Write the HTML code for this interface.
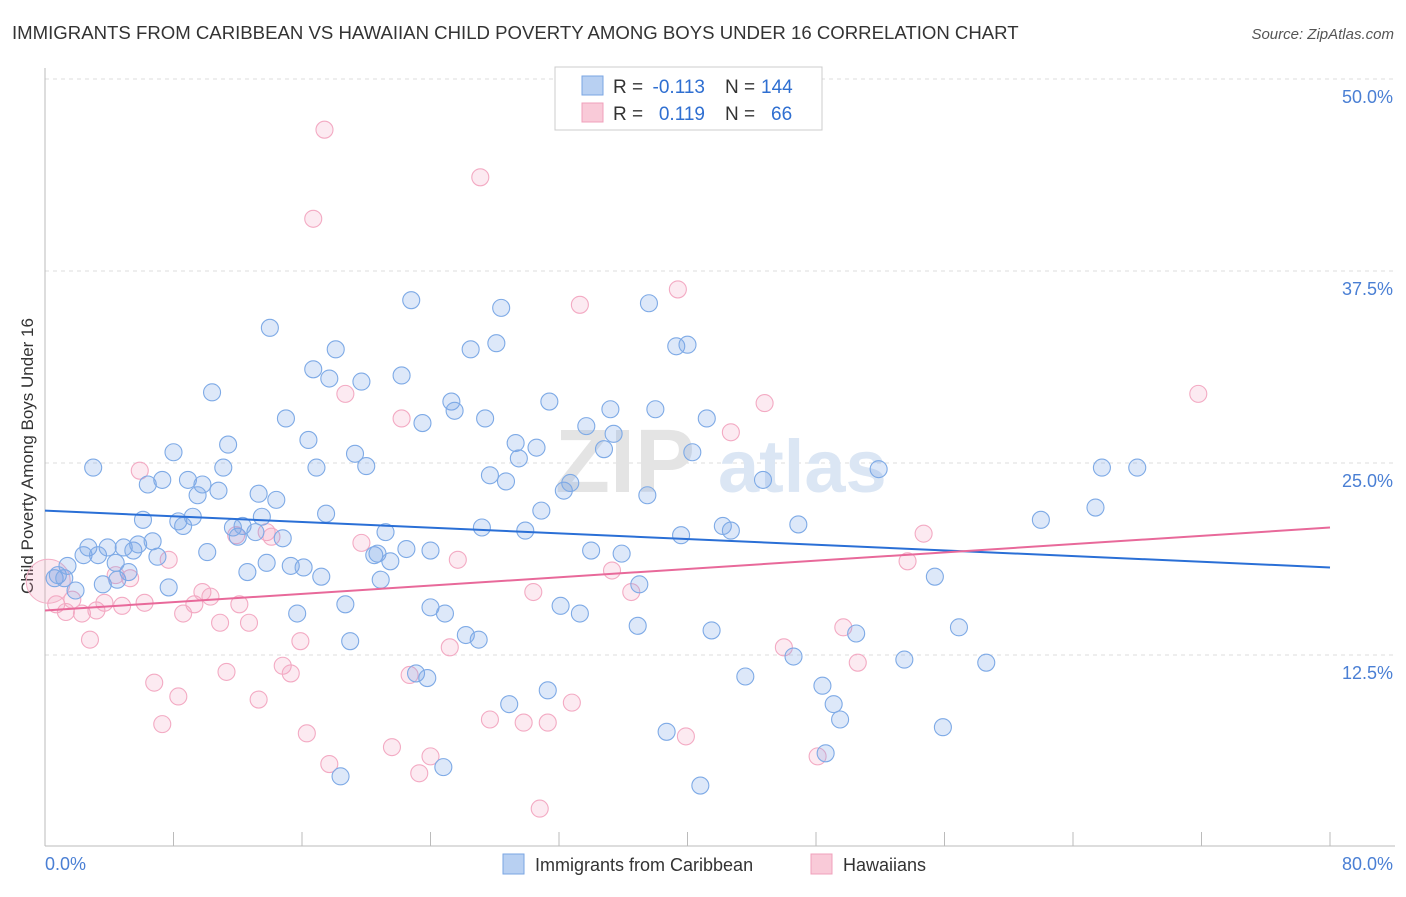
<!DOCTYPE html>
<html><head><meta charset="utf-8">
<style>
body{margin:0;background:#fff;font-family:"Liberation Sans",sans-serif;}
svg text{font-family:"Liberation Sans",sans-serif;}
</style></head><body>
<svg width="1406" height="892" viewBox="0 0 1406 892">
<text x="12" y="39" font-size="18.6" fill="#333">IMMIGRANTS FROM CARIBBEAN VS HAWAIIAN CHILD POVERTY AMONG BOYS UNDER 16 CORRELATION CHART</text>
<text x="1394" y="39" font-size="15" fill="#555" text-anchor="end" font-style="italic">Source: ZipAtlas.com</text>
<g id="grid"></g>
<text x="555" y="492" font-size="90" fill="#e4e4e4" font-family="Liberation Serif" font-weight="bold">ZIP</text>
<text x="718" y="492" font-size="74" fill="#dbe6f4" font-weight="bold">atlas</text>
<line x1="45" y1="68" x2="45" y2="846" stroke="#bbb"/>
<line x1="45" y1="846" x2="1395" y2="846" stroke="#bbb"/>
<text transform="translate(33,456) rotate(-90)" font-size="17" fill="#333" text-anchor="middle">Child Poverty Among Boys Under 16</text>
<text x="45" y="870" font-size="18" fill="#4a7fd4">0.0%</text>
<text x="1393" y="870" font-size="18" fill="#4a7fd4" text-anchor="end">80.0%</text>
<g id="pts"></g>
<g id="trends"></g>
<g>
<rect x="555" y="67" width="267" height="63" fill="#fff" stroke="#ccc"/>
<rect x="582" y="76" width="21" height="19" fill="#b8d0f2" stroke="#7aa6e3"/>
<rect x="582" y="103" width="21" height="19" fill="#f9cad8" stroke="#f0a0bb"/>
<text x="613" y="93" font-size="19" fill="#333">R =</text>
<text x="705" y="93" font-size="19" fill="#2f6fd1" text-anchor="end">-0.113</text>
<text x="725" y="93" font-size="19" fill="#333">N =</text>
<text x="761" y="93" font-size="19" fill="#2f6fd1">144</text>
<text x="613" y="120" font-size="19" fill="#333">R =</text>
<text x="705" y="120" font-size="19" fill="#2f6fd1" text-anchor="end">0.119</text>
<text x="725" y="120" font-size="19" fill="#333">N =</text>
<text x="771" y="120" font-size="19" fill="#2f6fd1">66</text>
</g>
<g>
<rect x="503" y="854" width="21" height="20" fill="#b8d0f2" stroke="#7aa6e3"/>
<text x="535" y="871" font-size="18" fill="#333">Immigrants from Caribbean</text>
<rect x="811" y="854" width="21" height="20" fill="#f9cad8" stroke="#f0a0bb"/>
<text x="843" y="871" font-size="18" fill="#333">Hawaiians</text>
</g>
</svg>
<script>
const yTicks=[12.5,25.0,37.5,50.0];
const xTicks=[8,16,24,32,40,48,56,64,72,80];
const blueX=[3.0,0.6,0.8,1.2,1.4,1.9,2.4,2.7,3.3,3.6,3.9,4.4,4.5,4.9,5.2,5.5,5.8,6.1,6.4,6.7,7.0,7.3,7.7,8.0,8.3,8.6,8.9,9.2,9.5,9.8,10.1,10.4,10.8,11.1,11.4,11.7,12.0,12.3,12.6,13.1,13.3,13.5,13.8,14.0,14.4,14.8,15.0,15.3,15.7,16.1,16.4,16.7,16.9,17.2,17.5,17.7,18.1,18.4,18.7,19.0,19.3,19.7,20.0,20.5,20.7,20.9,21.2,21.5,22.2,22.5,22.8,23.1,23.5,23.8,24.0,24.0,24.8,24.9,25.3,25.5,26.2,27.0,27.2,27.4,27.7,26.5,28.1,28.4,28.7,28.9,29.3,29.5,29.9,30.6,30.9,31.3,31.4,32.1,32.3,32.7,33.3,33.7,34.0,34.8,35.2,35.4,35.9,36.9,37.0,37.5,37.6,38.0,38.7,39.3,40.0,39.6,40.3,40.8,41.2,41.5,42.2,42.7,43.6,44.7,46.6,46.9,48.4,48.6,49.1,49.5,50.5,51.9,53.5,55.4,55.9,56.9,58.6,62.0,65.4,65.8,68.0];
const blueY=[24.7,17.5,17.7,17.5,18.3,16.7,19.0,19.5,19.0,17.1,19.5,18.5,17.4,19.5,17.9,19.3,19.7,21.3,23.6,19.9,18.9,23.9,16.9,25.7,21.2,20.9,23.9,21.5,22.9,23.6,19.2,29.6,23.2,24.7,26.2,20.8,20.2,20.9,17.9,20.5,23.0,21.5,18.5,33.8,22.6,20.1,27.9,18.3,15.2,18.2,26.5,31.1,24.7,17.6,21.7,30.5,32.4,4.6,15.8,13.4,25.6,30.3,24.8,19.0,19.1,17.4,20.5,18.6,30.7,19.4,35.6,11.3,27.6,11.0,19.3,15.6,5.2,15.2,29.0,28.4,13.8,13.5,20.8,27.9,24.2,32.4,32.8,35.1,23.8,9.3,26.3,25.3,20.6,26.0,21.9,10.2,29.0,15.7,23.2,23.7,15.2,27.4,19.3,25.9,28.5,26.9,19.1,14.4,17.1,22.9,35.4,28.5,7.5,32.6,32.7,20.3,25.7,4.0,27.9,14.1,20.9,20.6,11.1,23.9,12.4,21.0,10.5,6.1,9.3,8.3,13.9,24.6,12.2,17.6,7.8,14.3,12.0,21.3,22.1,24.7,24.7];
const pinkX=[0.7,1.3,1.7,2.3,2.8,3.2,3.7,4.4,4.8,5.3,5.9,6.2,6.8,7.3,7.7,8.3,8.6,9.3,9.8,10.3,10.9,11.3,11.9,12.1,12.7,13.3,13.8,14.1,14.8,15.3,15.9,16.3,16.7,17.4,17.7,18.7,19.7,21.6,22.2,22.7,23.3,24.0,25.2,25.7,27.1,27.7,29.8,30.4,30.8,31.3,32.8,33.3,35.3,36.5,39.4,39.9,42.7,44.8,46.0,48.1,49.7,50.6,53.7,54.7,71.8];
const pinkY=[15.8,15.3,16.1,15.2,13.5,15.4,15.9,17.7,15.7,17.5,24.5,15.9,10.7,8.0,18.7,9.8,15.2,15.8,16.6,16.3,14.6,11.4,20.3,15.8,14.6,9.6,20.5,20.2,11.8,11.3,13.4,7.4,40.9,46.7,5.4,29.5,19.8,6.5,27.9,11.2,4.8,5.9,13.0,18.7,43.6,8.3,8.1,16.6,2.5,8.1,9.4,35.3,18.0,16.6,36.3,7.2,27.0,28.9,13.0,5.9,14.3,12.0,18.6,20.4,29.5];
const blueTrend=[21.9,18.2];
const pinkTrend=[15.4,20.8];
const NS='http://www.w3.org/2000/svg';
const X=v=>45+v/80*1285, Y=v=>847-v/12.5*192;
function mk(t,a,p){const e=document.createElementNS(NS,t);for(const k in a)e.setAttribute(k,a[k]);p.appendChild(e);return e;}
const grid=document.getElementById('grid');
yTicks.forEach(t=>{
 const l=mk('line',{x1:45,x2:1395,y1:Y(t),y2:Y(t),stroke:'#ddd','stroke-dasharray':'4,4'},grid);
 
 
 const tx=mk('text',{x:1393,y:Y(t)+24,'font-size':18,fill:'#4a7fd4','text-anchor':'end'},grid);
 tx.textContent=t.toFixed(1)+'%';
 
 
});
xTicks.forEach(t=>{
 const l=mk('line',{x1:X(t),x2:X(t),y1:832,y2:846,stroke:'#bbb'},grid);
 
 
});
const pts=document.getElementById('pts');
const big=mk('circle',{cx:X(0.2),cy:Y(17.3),r:22,fill:'rgba(240,150,180,0.22)',stroke:'#f3b0c6'},pts);


pinkX.forEach((x,i)=>{
 const c=mk('circle',{cx:X(x),cy:Y(pinkY[i]),r:8.5,fill:'rgba(243,160,190,0.22)',stroke:'#f3aac3','stroke-width':1.1},pts);
 
 
});
blueX.forEach((x,i)=>{
 const c=mk('circle',{cx:X(x),cy:Y(blueY[i]),r:8.5,fill:'rgba(120,165,232,0.25)',stroke:'#7eaae6','stroke-width':1.1},pts);
 
 
});
const tr=document.getElementById('trends');
const b=mk('line',{x1:X(0),x2:X(80),y1:Y(blueTrend[0]),y2:Y(blueTrend[1]),stroke:'#2a6fd6','stroke-width':2},tr);


const p=mk('line',{x1:X(0),x2:X(80),y1:Y(pinkTrend[0]),y2:Y(pinkTrend[1]),stroke:'#e8699a','stroke-width':2},tr);


</script>
</body></html>
